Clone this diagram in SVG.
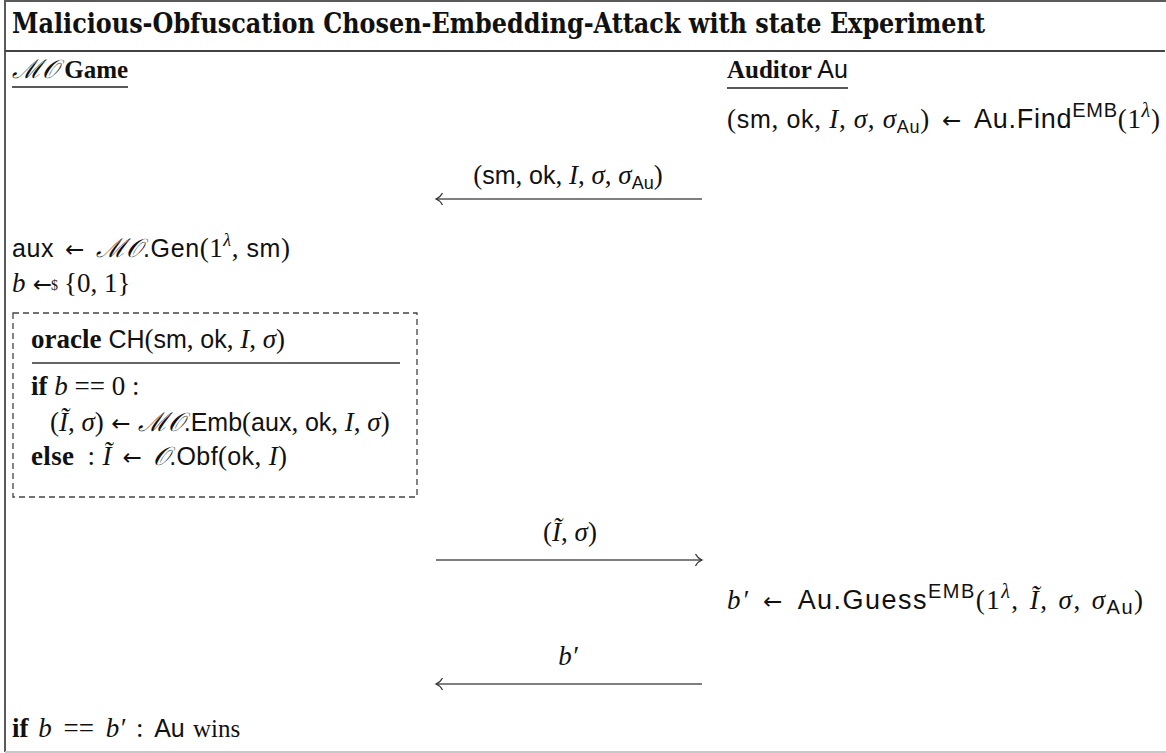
<svg xmlns="http://www.w3.org/2000/svg" width="1166" height="753" viewBox="0 0 1166 753">
  <style>
    text { font-size: 27px; fill: #111; }
    .rm { font-family: "Liberation Serif", serif; }
    .it { font-family: "Liberation Serif", serif; font-style: italic; }
    .sf { font-family: "Liberation Sans", sans-serif; font-size: 25px; }
    .bf { font-family: "Liberation Serif", serif; font-weight: bold; }
    .ar { font-family: "DejaVu Sans", sans-serif; font-size: 23px; }
    .cal { font-family: "DejaVu Serif", "Liberation Serif", serif; font-style: italic; font-size: 26px; }
    .pl { font-family: "Liberation Serif", serif; font-size: 25px; }
    .sup { font-size: 18px; }
    .big { font-size: 27px; }
    .bigsup { font-size: 20px; }
    .frame { stroke: #5a5a5a; stroke-width: 2; fill: none; }
    .ul { stroke: #222; stroke-width: 1.4; }
    .arrow { stroke: #555; stroke-width: 1.6; fill: none; marker-end: url(#hook); }
  </style>
  <defs>
    <marker id="hook" markerUnits="userSpaceOnUse" markerWidth="12" markerHeight="16" refX="10" refY="8" orient="auto">
      <path d="M3.5,2 Q6,6.5 10,8 Q6,9.5 3.5,14" fill="none" stroke="#333" stroke-width="1.2"/>
    </marker>
  </defs>

  <rect width="1166" height="753" fill="#fff"/>

  <!-- outer frame -->
  <g id="frame">
    <line class="frame" x1="5" y1="1" x2="1166" y2="1"/>
    <line class="frame" x1="5" y1="0" x2="5" y2="752"/>
    <line x1="5" y1="51" x2="1165" y2="51" stroke="#444" stroke-width="2"/>
    <line x1="5" y1="752" x2="1166" y2="752" stroke="#c8c8c8" stroke-width="2"/>
  </g>

  <g id="title">
    <text x="12" y="33" font-family="DejaVu Serif, serif" font-size="22px" font-weight="bold" textLength="973" lengthAdjust="spacingAndGlyphs">Malicious-Obfuscation Chosen-Embedding-Attack with state Experiment</text>
  </g>

  <!-- left party: the game -->
  <g id="game-header">
    <text x="12" y="78"><tspan class="cal">ℳ𝒪</tspan><tspan class="pl" font-weight="bold"> Game</tspan></text>
    <line class="ul" x1="12" y1="87" x2="128" y2="87"/>
  </g>

  <!-- right party: the auditor -->
  <g id="auditor-header">
    <text x="727" y="78"><tspan class="pl" font-weight="bold">Auditor</tspan><tspan class="sf"> Au</tspan></text>
    <line class="ul" x1="727" y1="88" x2="848" y2="88"/>
  </g>

  <g id="auditor-find">
    <text x="727" y="128" textLength="433" lengthAdjust="spacing"><tspan class="rm">(</tspan><tspan class="sf">sm</tspan><tspan class="rm">, </tspan><tspan class="sf">ok</tspan><tspan class="rm">, </tspan><tspan class="it">I</tspan><tspan class="rm">, </tspan><tspan class="it">σ</tspan><tspan class="rm">, </tspan><tspan class="it">σ</tspan><tspan class="sf sup" dy="5">Au</tspan><tspan class="rm" dy="-5">)</tspan><tspan class="ar" dx="4"> ← </tspan><tspan class="sf big" dx="4">Au.Find</tspan><tspan class="sf bigsup" dy="-11">EMB</tspan><tspan class="rm" dy="11">(1</tspan><tspan class="it bigsup" dy="-11">λ</tspan><tspan class="rm" dy="11">)</tspan></text>
  </g>

  <g id="gen">
    <text x="12" y="257" textLength="278" lengthAdjust="spacing"><tspan class="sf">aux</tspan><tspan class="ar" dx="3"> ← </tspan><tspan class="cal" dx="3">ℳ𝒪</tspan><tspan class="sf">.Gen</tspan><tspan class="rm">(1</tspan><tspan class="it sup" dy="-11">λ</tspan><tspan class="rm" dy="11">, </tspan><tspan class="sf">sm</tspan><tspan class="rm">)</tspan></text>
  </g>

  <g id="sample-b">
    <text x="12" y="292"><tspan class="it">b</tspan><tspan class="ar"> ←</tspan><tspan class="rm" font-size="14px" dx="-1" dy="-2">$</tspan><tspan class="rm" dx="6" dy="2">{0, 1}</tspan></text>
  </g>

  <!-- challenge oracle -->
  <g id="oracle">
    <rect x="13" y="313" width="404" height="184" fill="none" stroke="#444" stroke-width="1.3" stroke-dasharray="6 4"/>
    <text x="31" y="348"><tspan class="bf">oracle</tspan><tspan class="sf"> CH</tspan><tspan class="rm">(</tspan><tspan class="sf">sm</tspan><tspan class="rm">, </tspan><tspan class="sf">ok</tspan><tspan class="rm">, </tspan><tspan class="it">I</tspan><tspan class="rm">, </tspan><tspan class="it">σ</tspan><tspan class="rm">)</tspan></text>
    <line x1="32" y1="363" x2="400" y2="363" stroke="#333" stroke-width="1.3"/>
    <text x="31" y="395"><tspan class="bf">if</tspan><tspan class="it"> b</tspan><tspan class="rm"> == 0 :</tspan></text>
    <text x="50" y="431"><tspan class="rm">(</tspan><tspan class="it">Ĩ</tspan><tspan class="rm">, </tspan><tspan class="it">σ</tspan><tspan class="rm">)</tspan><tspan class="ar"> ← </tspan><tspan class="cal">ℳ𝒪</tspan><tspan class="sf">.Emb</tspan><tspan class="rm">(</tspan><tspan class="sf">aux</tspan><tspan class="rm">, </tspan><tspan class="sf">ok</tspan><tspan class="rm">, </tspan><tspan class="it">I</tspan><tspan class="rm">, </tspan><tspan class="it">σ</tspan><tspan class="rm">)</tspan></text>
    <text x="31" y="465" textLength="256" lengthAdjust="spacing"><tspan class="bf">else</tspan><tspan class="rm" dx="6"> : </tspan><tspan class="it">Ĩ</tspan><tspan class="ar" dx="3"> ← </tspan><tspan class="cal" dx="3">𝒪</tspan><tspan class="sf">.Obf</tspan><tspan class="rm">(</tspan><tspan class="sf">ok</tspan><tspan class="rm">, </tspan><tspan class="it">I</tspan><tspan class="rm">)</tspan></text>
  </g>

  <g id="auditor-guess">
    <text x="727" y="609" textLength="416" lengthAdjust="spacing"><tspan class="it">b′</tspan><tspan class="ar" dx="5"> ← </tspan><tspan class="sf big" dx="5">Au.Guess</tspan><tspan class="sf bigsup" dy="-11">EMB</tspan><tspan class="rm" dy="11">(1</tspan><tspan class="it bigsup" dy="-11">λ</tspan><tspan class="rm" dy="11">, </tspan><tspan class="it" dx="2">Ĩ</tspan><tspan class="rm">, </tspan><tspan class="it" dx="2">σ</tspan><tspan class="rm">, </tspan><tspan class="it" dx="2">σ</tspan><tspan class="sf bigsup" dy="5">Au</tspan><tspan class="rm" dy="-5">)</tspan></text>
  </g>

  <g id="win-check">
    <text x="12" y="737"><tspan class="bf">if</tspan><tspan class="it" dx="3"> b</tspan><tspan class="rm" dx="5"> == </tspan><tspan class="it" dx="5">b′</tspan><tspan class="rm" dx="4"> : </tspan><tspan class="sf" dx="4">Au</tspan><tspan class="pl" font-size="27px" dx="2"> wins</tspan></text>
  </g>

  <!-- messages exchanged between the two parties -->
  <g id="connectors">
    <line class="arrow" x1="702" y1="199" x2="436" y2="199"/>
    <text x="568" y="184" text-anchor="middle"><tspan class="rm">(</tspan><tspan class="sf">sm</tspan><tspan class="rm">, </tspan><tspan class="sf">ok</tspan><tspan class="rm">, </tspan><tspan class="it">I</tspan><tspan class="rm">, </tspan><tspan class="it">σ</tspan><tspan class="rm">, </tspan><tspan class="it">σ</tspan><tspan class="sf sup" dy="5">Au</tspan><tspan class="rm" dy="-5">)</tspan></text>

    <line class="arrow" x1="436" y1="560" x2="702" y2="560"/>
    <text x="570" y="541" text-anchor="middle"><tspan class="rm">(</tspan><tspan class="it">Ĩ</tspan><tspan class="rm">, </tspan><tspan class="it">σ</tspan><tspan class="rm">)</tspan></text>

    <line class="arrow" x1="702" y1="684" x2="436" y2="684"/>
    <text x="568" y="665" text-anchor="middle"><tspan class="it">b′</tspan></text>
  </g>
</svg>
